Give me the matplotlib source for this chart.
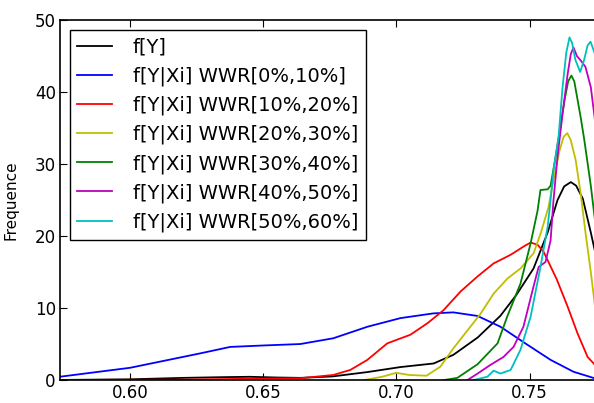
import numpy as np
import matplotlib
matplotlib.use("Agg")
import matplotlib.pyplot as plt

# density curves (x = WWR-weighted value, y = frequence)
labels = ["f[Y]", "f[Y|Xi] WWR[0%,10%]", "f[Y|Xi] WWR[10%,20%]", "f[Y|Xi] WWR[20%,30%]",
          "f[Y|Xi] WWR[30%,40%]", "f[Y|Xi] WWR[40%,50%]", "f[Y|Xi] WWR[50%,60%]"]
colors = ["k", (0, 0, 1), (1, 0, 0), (0.75, 0.75, 0), (0, 0.5, 0), (0.75, 0, 0.75), (0, 0.75, 0.75)]

x_all = [0.570, 0.600, 0.620, 0.635, 0.645, 0.655, 0.664, 0.676, 0.689, 0.7015, 0.714, 0.7214,
         0.7305, 0.739, 0.745, 0.7515, 0.7568, 0.7605, 0.7630, 0.7655, 0.7675, 0.7700, 0.7730, 0.7760]
y_all = [0.0, 0.1, 0.3, 0.4, 0.45, 0.35, 0.3, 0.5, 1.1, 1.8, 2.3, 3.5,
         5.9, 8.9, 11.8, 15.5, 20.5, 25.0, 26.9, 27.5, 27.0, 25.2, 20.5, 15.5]

x_0_10 = [0.570, 0.5737, 0.600, 0.6263, 0.6376, 0.650, 0.6639, 0.6763, 0.6891, 0.7015, 0.7139,
          0.7214, 0.7305, 0.7391, 0.7492, 0.7579, 0.7665, 0.7741, 0.777]
y_0_10 = [0.4, 0.46, 1.7, 3.7, 4.6, 4.8, 5.0, 5.8, 7.4, 8.6, 9.26,
          9.4, 8.9, 7.4, 4.9, 2.8, 1.15, 0.28, 0.15]

x_10_20 = [0.570, 0.620, 0.650, 0.6639, 0.6763, 0.6827, 0.6891, 0.6966, 0.7053, 0.7117, 0.7177,
           0.7241, 0.7305, 0.7365, 0.7429, 0.7480, 0.7504, 0.7530, 0.7553, 0.7602, 0.7643, 0.7680,
           0.7718, 0.7756, 0.777]
y_10_20 = [0.0, 0.05, 0.2, 0.25, 0.7, 1.4, 2.8, 5.1, 6.3, 7.9, 9.7,
           12.3, 14.4, 16.2, 17.4, 18.6, 19.1, 18.8, 17.8, 14.0, 10.2, 6.5,
           3.2, 1.7, 1.2]

x_20_30 = [0.688, 0.6947, 0.6999, 0.7049, 0.7113, 0.7165, 0.7214, 0.7267, 0.7316, 0.7365, 0.7417,
           0.7466, 0.7515, 0.7542, 0.7571, 0.7590, 0.7612, 0.7628, 0.7642, 0.7655, 0.7673, 0.7692,
           0.7710, 0.7730, 0.7745, 0.777]
y_20_30 = [0.0, 0.46, 1.0, 0.7, 0.6, 1.85, 4.4, 6.9, 9.2, 12.0, 14.1,
           15.5, 17.6, 20.4, 24.0, 27.8, 31.8, 33.8, 34.3, 33.3, 30.6, 25.9,
           20.5, 15.0, 10.5, 6.0]

x_30_40 = [0.718, 0.7229, 0.7305, 0.7380, 0.7417, 0.7466, 0.7504, 0.7530, 0.7541, 0.7568, 0.7579,
           0.7598, 0.7617, 0.7632, 0.7645, 0.7657, 0.7668, 0.7680, 0.7692, 0.7705, 0.7730, 0.7748, 0.777]
y_30_40 = [0.0, 0.3, 2.2, 5.1, 8.9, 13.4, 19.0, 23.5, 26.4, 26.5, 27.0,
           31.0, 35.5, 39.0, 41.5, 42.3, 41.5, 39.0, 36.5, 33.5, 27.0, 21.5, 16.0]

x_40_50 = [0.7267, 0.7305, 0.7353, 0.7402, 0.7440, 0.7477, 0.7515, 0.7534, 0.7560, 0.7579, 0.7590,
           0.7605, 0.7624, 0.7643, 0.7655, 0.7665, 0.7678, 0.7692, 0.7710, 0.7730, 0.7744, 0.777]
y_40_50 = [0.0, 0.9, 2.1, 3.2, 4.6, 7.4, 13.0, 15.7, 16.4, 19.4, 25.0,
           31.0, 37.0, 42.5, 45.3, 46.2, 45.0, 44.4, 43.5, 40.7, 36.6, 28.0]

x_50_60 = [0.729, 0.7342, 0.7365, 0.7391, 0.7429, 0.7466, 0.7504, 0.7541, 0.7568, 0.7579, 0.7590,
           0.7609, 0.7624, 0.7638, 0.7650, 0.7660, 0.7672, 0.7690, 0.7705, 0.7718, 0.7729, 0.7744,
           0.777]
y_50_60 = [0.0, 0.46, 1.3, 0.9, 1.4, 4.2, 8.8, 15.7, 21.3, 25.0, 29.2,
           33.8, 40.7, 45.5, 47.6, 46.8, 44.5, 42.8, 44.5, 46.5, 47.0, 45.5,
           40.0]

series = [(x_all, y_all), (x_0_10, y_0_10), (x_10_20, y_10_20), (x_20_30, y_20_30),
          (x_30_40, y_30_40), (x_40_50, y_40_50), (x_50_60, y_50_60)]

x_ticks = [0.60, 0.65, 0.70, 0.75]
y_ticks = [0, 10, 20, 30, 40, 50]

fig = plt.figure(figsize=(5.94, 4.03), dpi=100)
# axes runs past the right edge like the cropped original
ax = fig.add_axes([0.101, 0.057, 0.925, 0.893])

for (xs, ys), lab, col in zip(series, labels, colors):
    ax.plot(xs, ys, color=col, lw=1.3, label=lab)

ax.set_xlim(0.5737, 0.7800)
ax.set_ylim(0, 50)
ax.set_xticks(x_ticks)
ax.set_xticklabels(["%.2f" % t for t in x_ticks])
ax.set_yticks(y_ticks)
ax.tick_params(direction="in", top=True, right=True, length=5, labelsize=12, pad=3)
for s in ax.spines.values():
    s.set_linewidth(1.2)
ax.set_ylabel("Frequence", fontsize=11)
ax.yaxis.set_label_coords(-0.075, 0.5)

leg = ax.legend(loc="upper left", fontsize=14, fancybox=False, framealpha=1,
                borderaxespad=0.5, borderpad=0.4, handlelength=1.75, handletextpad=1.08,
                labelspacing=0.5)
leg.get_frame().set_edgecolor("k")
leg.get_frame().set_linewidth(1.0)

fig.savefig("out.png", dpi=100)
